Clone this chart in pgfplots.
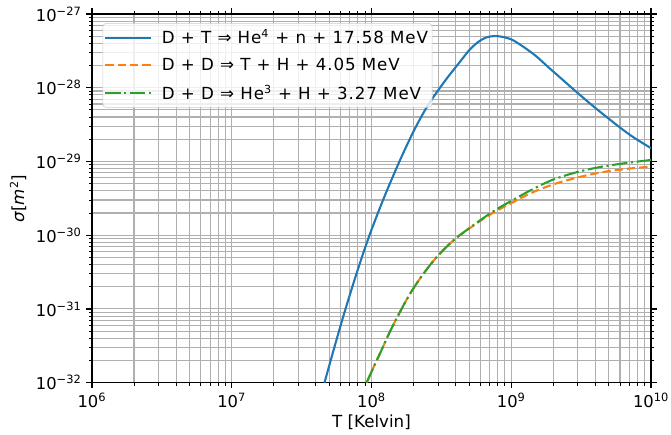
\documentclass[border=0pt]{standalone}
\usepackage{fontspec}
\setmainfont{DejaVu Sans}
\newfontfamily\legfont[LetterSpace=5.5]{DejaVu Sans}
\usepackage{pgfplots}
\pgfplotsset{compat=1.18}
\definecolor{c0}{HTML}{1F77B4}
\definecolor{c1}{HTML}{FF7F0E}
\definecolor{c2}{HTML}{2CA02C}
\definecolor{gridc}{HTML}{B0B0B0}
\newcommand{\tkf}{\fontsize{11.75}{14}\selectfont}
\newcommand{\lbl}{\fontsize{12}{14.4}\selectfont}
\begin{document}
\begin{tikzpicture}
\begin{axis}[
  name=ax,
  xmode=log, ymode=log, log basis x=10, log basis y=10,
  scale only axis, width=402.5pt, height=265.5pt,
  xmin=1e6, xmax=1e10, ymin=1e-32, ymax=1e-27,
  xticklabel={\pgfmathtruncatemacro\ex{round(\tick)}10\textsuperscript{\ex}},
  yticklabel={\pgfmathtruncatemacro\ex{round(-\tick)}10\textsuperscript{−\ex}},
  grid=both,
  major grid style={gridc, line width=0.8pt},
  minor grid style={gridc, line width=0.8pt},
  tick align=outside,
  major tick length=4pt, minor tick length=2.3pt,
  every tick/.style={black, line width=0.9pt},
  minor tick style={black, line width=0.65pt},
  axis line style={line width=0.9pt},
  tick label style={font=\tkf},
  xlabel={T [Kelvin]},
  ylabel={{\itshape σ}[{\itshape m}\textsuperscript{2}]},
  every axis x label/.style={at={(axis description cs:0.5,-0.106)}, anchor=center, font=\lbl},
  every axis y label/.style={at={(axis description cs:-0.132,0.5)}, anchor=center, rotate=90, font=\lbl},
  legend style={at={(0.019,0.975)}, anchor=north west, font=\lbl\legfont,
    fill=white, fill opacity=0.8, text opacity=1, draw=black!20,
    rounded corners=2.5pt, inner xsep=1pt, inner ysep=2.5pt, row sep=4.8pt,
    /tikz/every odd column/.append style={column sep=5pt}},
  legend cell align=left,
  legend image code/.code={\draw[#1] (0pt,0pt) -- (33pt,0pt);},
]
% D + T
\addplot[c0, line width=1.5pt, smooth] coordinates {
  (4.61e7,1e-32) (5.37e7,2.818e-32) (6.24e7,7.586e-32) (7.35e7,2.089e-31)
  (8.43e7,4.677e-31) (9.68e7,1e-30) (1.122e8,2.089e-30) (1.306e8,4.266e-30)
  (1.629e8,1.122e-29) (2.028e8,2.692e-29) (2.523e8,5.689e-29) (3.319e8,1.202e-28)
  (4.375e8,2.344e-28) (5.012e8,3.236e-28) (5.754e8,4.121e-28) (6.607e8,4.786e-28)
  (7.586e8,5.012e-28) (8.710e8,4.875e-28) (1.021e9,4.436e-28) (1.230e9,3.548e-28)
  (1.500e9,2.692e-28) (1.862e9,1.862e-28) (2.323e9,1.288e-28) (3.020e9,8.318e-29)
  (4.027e9,5.248e-29) (5.902e9,2.951e-29) (7.586e9,2.089e-29) (1e10,1.514e-29)
};
\addlegendentry{D + T ⇒ He\textsuperscript{4} + n + 17.58 MeV}
% D + D -> T + H
\addplot[c1, line width=1.5pt, smooth, dash pattern=on 6pt off 2.9pt] coordinates {
  (9.226e7,1e-32) (1.023e8,1.549e-32) (1.140e8,2.399e-32) (1.346e8,4.786e-32)
  (1.585e8,8.810e-32) (1.866e8,1.549e-31) (2.239e8,2.630e-31) (2.742e8,4.365e-31)
  (3.311e8,6.457e-31) (4.027e8,9.120e-31) (5.012e8,1.230e-30) (6.237e8,1.641e-30)
  (7.762e8,2.113e-30) (9.683e8,2.630e-30) (1.380e9,3.715e-30) (1.972e9,4.842e-30)
  (2.951e9,6.026e-30) (4.487e9,7.161e-30) (6.761e9,7.943e-30) (1e10,8.511e-30)
};
\addlegendentry{D + D ⇒ T + H + 4.05 MeV}
% D + D -> He3 + H
\addplot[c2, line width=1.5pt, smooth, dash pattern=on 11pt off 2.6pt on 1.6pt off 2.6pt] coordinates {
  (9.226e7,1e-32) (1.023e8,1.549e-32) (1.140e8,2.399e-32) (1.346e8,4.786e-32)
  (1.585e8,8.810e-32) (1.866e8,1.549e-31) (2.239e8,2.630e-31) (2.742e8,4.365e-31)
  (3.311e8,6.457e-31) (4.027e8,9.120e-31) (5.012e8,1.245e-30) (6.237e8,1.679e-30)
  (7.762e8,2.213e-30) (9.683e8,2.818e-30) (1.380e9,4.074e-30) (1.972e9,5.623e-30)
  (2.951e9,7.161e-30) (4.487e9,8.511e-30) (6.761e9,9.550e-30) (1e10,1.047e-29)
};
\addlegendentry{D + D ⇒ He\textsuperscript{3} + H + 3.27 MeV}
\end{axis}
\pgfresetboundingbox
\path ([xshift=-66.2pt,yshift=-37pt]ax.south west) rectangle ([xshift=14.4pt,yshift=10pt]ax.north east);
\end{tikzpicture}
\end{document}
